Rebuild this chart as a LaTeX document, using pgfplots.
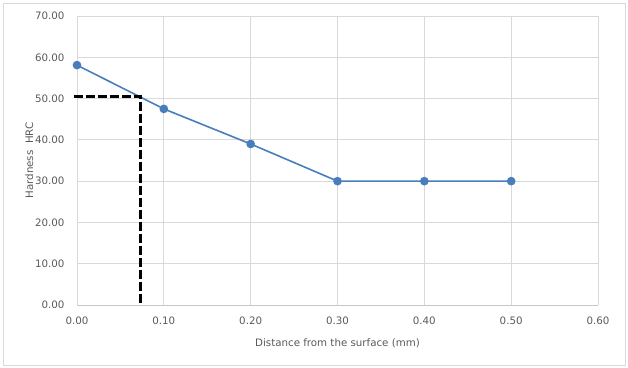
\documentclass[border=0pt]{standalone}
\usepackage{fontspec}
\setmainfont{DejaVu Sans}
\usepackage{pgfplots}
\pgfplotsset{compat=1.18}
\definecolor{linec}{HTML}{4A7EBB}
\definecolor{gridc}{HTML}{D9D9D9}
\definecolor{txt}{HTML}{595959}
\begin{document}
\begin{tikzpicture}
\useasboundingbox (-77bp,-63bp) rectangle (551bp,305bp);
\draw[gridc, line width=0.75bp] (-74bp,-60bp) rectangle (548bp,302bp);
\begin{axis}[
  at={(0,0)}, anchor=south west,
  scale only axis, width=521bp, height=289bp,
  xmin=0, xmax=0.6, ymin=0, ymax=70,
  xtick={0,0.1,...,0.6}, ytick={0,10,...,70},
  grid=major, major grid style={gridc, line width=0.75bp},
  axis line style={draw=none},
  tick style={draw=none},
  ticklabel style={font=\fontsize{10.3}{11}\selectfont, text=txt},
  /pgf/number format/.cd, fixed, fixed zerofill, precision=2, assume math mode=true,
  /pgfplots/.cd,
  xticklabel style={yshift=-8bp},
  yticklabel style={xshift=-9bp},
  xlabel={Distance from the surface (mm)},
  ylabel={Hardness\ \ HRC},
  label style={font=\fontsize{10.3}{11}\selectfont, text=txt},
  xlabel style={yshift=-8bp},
  ylabel style={yshift=-5bp},
  clip=false,
]
\addplot[draw=gridc!80!gray, line width=0.75bp, forget plot] coordinates {(0,0) (0.6,0)};
\addplot[color=linec, line width=1.6bp, mark=*, mark size=3.5bp, mark options={fill=linec, draw=linec}]
  coordinates {(0,58.1) (0.1,47.5) (0.2,39.0) (0.3,30.0) (0.4,30.0) (0.5,30.0)};
\addplot[black, line width=3bp, dash pattern=on 9bp off 3bp]
  coordinates {(-0.004,50.6) (0.0726,50.6) (0.0726,0.4)};
\end{axis}
\end{tikzpicture}
\end{document}
